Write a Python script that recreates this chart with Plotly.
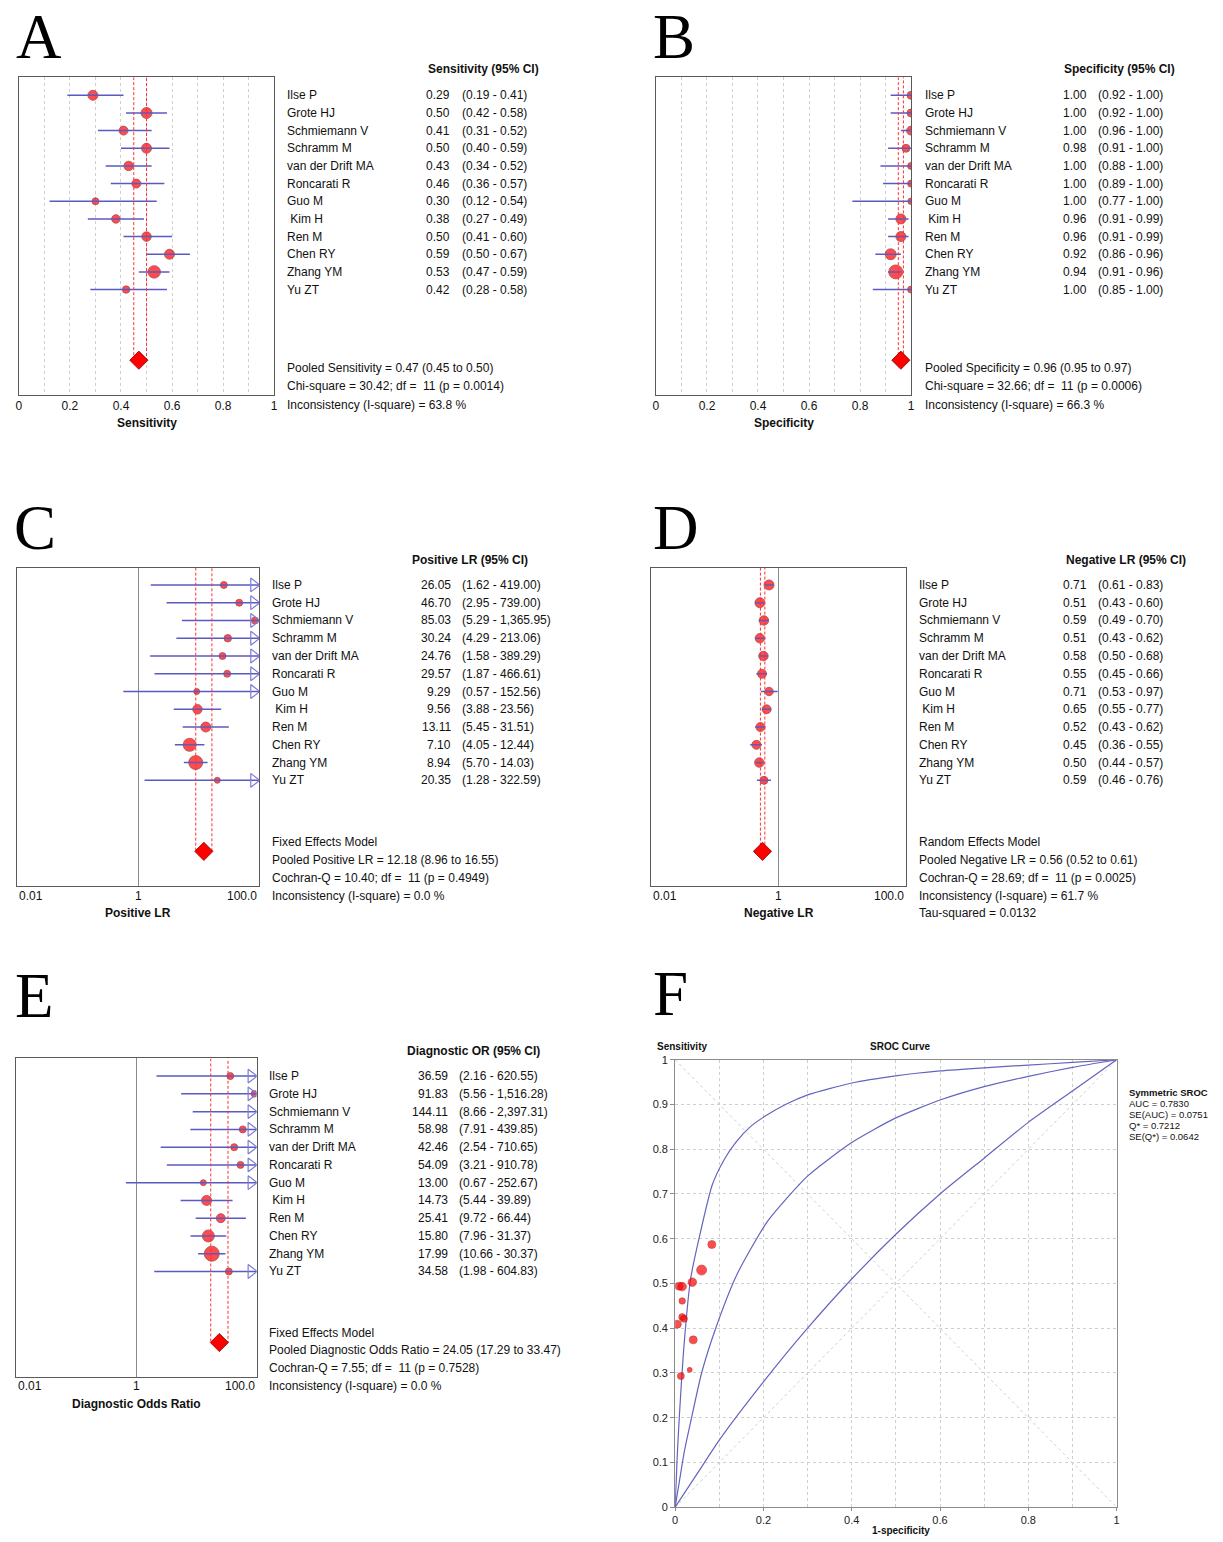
import plotly.graph_objects as go
import math

# ---------------- data ----------------
STUDIES = ["Ilse P", "Grote HJ", "Schmiemann V", "Schramm M", "van der Drift MA",
           "Roncarati R", "Guo M", "\u00a0Kim H", "Ren M", "Chen RY", "Zhang YM", "Yu ZT"]

SENS = [0.29, 0.50, 0.41, 0.50, 0.43, 0.46, 0.30, 0.38, 0.50, 0.59, 0.53, 0.42]
SENS_LO = [0.19, 0.42, 0.31, 0.40, 0.34, 0.36, 0.12, 0.27, 0.41, 0.50, 0.47, 0.28]
SENS_HI = [0.41, 0.58, 0.52, 0.59, 0.52, 0.57, 0.54, 0.49, 0.60, 0.67, 0.59, 0.58]
SENS_POOLED = [0.47, 0.45, 0.50]

SPEC = [1.00, 1.00, 1.00, 0.98, 1.00, 1.00, 1.00, 0.96, 0.96, 0.92, 0.94, 1.00]
SPEC_LO = [0.92, 0.92, 0.96, 0.91, 0.88, 0.89, 0.77, 0.91, 0.91, 0.86, 0.91, 0.85]
SPEC_HI = [1.00, 1.00, 1.00, 1.00, 1.00, 1.00, 1.00, 0.99, 0.99, 0.96, 0.96, 1.00]
SPEC_POOLED = [0.96, 0.95, 0.97]

PLR = [26.05, 46.70, 85.03, 30.24, 24.76, 29.57, 9.29, 9.56, 13.11, 7.10, 8.94, 20.35]
PLR_LO = [1.62, 2.95, 5.29, 4.29, 1.58, 1.87, 0.57, 3.88, 5.45, 4.05, 5.70, 1.28]
PLR_HI = [419.00, 739.00, 1365.95, 213.06, 389.29, 466.61, 152.56, 23.56, 31.51, 12.44, 14.03, 322.59]
PLR_POOLED = [12.18, 8.96, 16.55]

NLR = [0.71, 0.51, 0.59, 0.51, 0.58, 0.55, 0.71, 0.65, 0.52, 0.45, 0.50, 0.59]
NLR_LO = [0.61, 0.43, 0.49, 0.43, 0.50, 0.45, 0.53, 0.55, 0.43, 0.36, 0.44, 0.46]
NLR_HI = [0.83, 0.60, 0.70, 0.62, 0.68, 0.66, 0.97, 0.77, 0.62, 0.55, 0.57, 0.76]
NLR_POOLED = [0.56, 0.52, 0.61]

DOR = [36.59, 91.83, 144.11, 58.98, 42.46, 54.09, 13.00, 14.73, 25.41, 15.80, 17.99, 34.58]
DOR_LO = [2.16, 5.56, 8.66, 7.91, 2.54, 3.21, 0.67, 5.44, 9.72, 7.96, 10.66, 1.98]
DOR_HI = [620.55, 1516.28, 2397.31, 439.85, 710.65, 910.78, 252.67, 39.89, 66.44, 31.37, 30.37, 604.83]
DOR_POOLED = [24.05, 17.29, 33.47]

# SROC study points (1-specificity, sensitivity) as plotted
SROC_FPR = [0.013, 0.009, 0.005, 0.016, 0.016, 0.016, 0.033, 0.041, 0.039, 0.083, 0.060, 0.020]
SROC_TPR = [0.293, 0.494, 0.409, 0.493, 0.425, 0.461, 0.307, 0.374, 0.503, 0.587, 0.530, 0.421]

# SROC curves
UPPER_X = [0, 0.005, 0.01, 0.02, 0.035, 0.054, 0.084, 0.11, 0.137, 0.17, 0.204, 0.25, 0.302, 0.40,
           0.50, 0.60, 0.70, 0.80, 0.90, 1.0]
UPPER_Y = [0, 0.12, 0.21, 0.36, 0.51, 0.60, 0.72, 0.775, 0.815, 0.85, 0.874, 0.90, 0.922, 0.948,
           0.964, 0.975, 0.982, 0.988, 0.994, 1.0]
MID_X = [0, 0.01, 0.02, 0.035, 0.06, 0.092, 0.14, 0.21, 0.30, 0.40, 0.50, 0.60, 0.70, 0.80, 0.90, 1.0]
MID_Y = [0, 0.06, 0.12, 0.19, 0.30, 0.40, 0.52, 0.64, 0.74, 0.815, 0.87, 0.91, 0.94, 0.963, 0.983, 1.0]
LOW_X = [0, 0.05, 0.10, 0.20, 0.30, 0.40, 0.50, 0.60, 0.70, 0.80, 0.90, 1.0]
LOW_Y = [0, 0.075, 0.15, 0.28, 0.40, 0.51, 0.61, 0.70, 0.78, 0.86, 0.93, 1.0]

SROC_STATS = ["AUC = 0.7830", "SE(AUC) = 0.0751", "Q* = 0.7212", "SE(Q*) = 0.0642"]

# ---------------- style ----------------
W, H = 1223, 1542
FONT = "Arial, 'Liberation Sans', sans-serif"
SERIF = "'Times New Roman', 'Liberation Serif', serif"
RED = "#ff0000"
RED_EDGE = "#8a0000"
CI_BLUE = "#5a5ac2"
ARROW_BLUE = "#7c7cd8"
BOX = "#5a5a5a"
GRID = "#cfcfcf"
NBSP = "\u00a0"

SIZE_A = [10, 11, 9, 10, 9.5, 9, 7, 8.5, 9.5, 10, 12.5, 7.5]
SIZE_B = [8, 8, 9, 8, 7, 7, 6.5, 10, 10, 11, 14, 7]
SIZE_C = [7, 7, 7, 7.5, 7, 7, 6, 9.5, 10, 13, 14, 6]
SIZE_D = [10, 10, 9.5, 9.5, 9.5, 9, 8.5, 9, 9, 9, 9.5, 8]
SIZE_E = [7, 6.5, 7, 7, 7, 7, 6, 10, 9, 12, 15, 7]
SIZE_F = [7, 8, 8, 8.5, 7, 6.5, 5, 8, 8.5, 8, 10, 7]

fig = go.Figure()
annotations = []


def px(x):
    return x / W


def py(y):
    return 1 - y / H


def ann(text, x, y, xanchor="left", size=12, bold=False, family=FONT, xref="paper", yref="paper",
        color="#111111"):
    if bold:
        text = "<b>" + text + "</b>"
    annotations.append(dict(text=text, x=x, y=y, xref=xref, yref=yref, xanchor=xanchor,
                            yanchor="middle", showarrow=False,
                            font=dict(family=family, size=size, color=color)))


def names(i):
    s = "" if i == 1 else str(i)
    return "x" + s, "y" + s, "xaxis" + s, "yaxis" + s


def fmt(v):
    return f"{v:,.2f}"


LOG_MIN, LOG_MAX = 0.01, 100.0


def forest(i, est, lo, hi, pooled, sizes, g, log, header, title, foot):
    xn, yn, xk, yk = names(i)
    l, t, r, b = g["box"]
    row0, sp = g["row0"], g["sp"]
    ytop = (t - row0) / sp
    ybot = (b - row0) / sp
    n = len(est)
    rows = list(range(n))
    prow = n + 3

    # study markers
    fig.add_trace(go.Scatter(x=est, y=rows, mode="markers", xaxis=xn, yaxis=yn,
                             marker=dict(size=sizes, color=RED, line=dict(color=RED_EDGE, width=0.8)),
                             hoverinfo="skip"))
    # CI lines
    cx, cy = [], []
    for k in rows:
        cx += [lo[k], hi[k], None]
        cy += [k, k, None]
    fig.add_trace(go.Scatter(x=cx, y=cy, mode="lines", xaxis=xn, yaxis=yn,
                             line=dict(color=CI_BLUE, width=1.5), hoverinfo="skip"))
    # arrows for CIs exceeding the axis
    if log:
        ar = [k for k in rows if hi[k] > LOG_MAX]
        fig.add_trace(go.Scatter(x=[10 ** (math.log10(LOG_MAX) - 0.09)] * len(ar), y=ar, mode="markers",
                                 xaxis=xn, yaxis=yn,
                                 marker=dict(symbol="triangle-right-open", size=12,
                                             color=ARROW_BLUE, line=dict(width=1.2, color=ARROW_BLUE)),
                                 hoverinfo="skip"))
    # pooled CI band
    fig.add_trace(go.Scatter(x=[pooled[1], pooled[1], pooled[2], pooled[2]],
                             y=[ytop, prow, prow, ytop], mode="lines", xaxis=xn, yaxis=yn,
                             line=dict(color="#ff3030", width=1, dash="3px,2px"), hoverinfo="skip"))
    # pooled diamond
    fig.add_trace(go.Scatter(x=[pooled[0]], y=[prow], mode="markers", xaxis=xn, yaxis=yn,
                             marker=dict(symbol="diamond", size=14, color=RED,
                                         line=dict(color=RED_EDGE, width=0.8)),
                             hoverinfo="skip"))

    xa = dict(domain=[px(l), px(r)], anchor=yn, showline=True, mirror=True, linecolor=BOX,
              linewidth=1, zeroline=False, ticks="", fixedrange=True)
    if log:
        xa.update(type="log", range=[math.log10(LOG_MIN), math.log10(LOG_MAX)], tickvals=[1],
                  showticklabels=False, showgrid=True, gridcolor="#8a8a8a", gridwidth=1)
    else:
        xa.update(range=[0, 1], tickmode="linear", tick0=0, dtick=0.2, showgrid=True,
                  gridcolor=GRID, griddash="dot",
                  minor=dict(tick0=0, dtick=0.1, showgrid=True, gridcolor=GRID, griddash="dot"),
                  tickfont=dict(family=FONT, size=12, color="#111111"))
    ya = dict(domain=[py(b), py(t)], anchor=xn, range=[ybot, ytop], showline=True, mirror=True,
              linecolor=BOX, linewidth=1, showgrid=False, zeroline=False, showticklabels=False,
              ticks="", fixedrange=True)
    fig.update_layout({xk: xa, yk: ya})

    if log:
        # annotation x on a log axis is given in log10 units
        ann("0.01", math.log10(LOG_MIN), py(g["tick_y"]), "left", xref=xn)
        ann("1", 0, py(g["tick_y"]), "center", xref=xn)
        ann("100.0", math.log10(LOG_MAX), py(g["tick_y"]), "right", xref=xn)

    # text table
    for k in rows:
        ann(STUDIES[k], px(g["label_x"]), k, "left", yref=yn)
        ann(fmt(est[k]), px(g["val_right"]), k, "right", yref=yn)
        ann("(" + fmt(lo[k]) + " - " + fmt(hi[k]) + ")", px(g["ci_left"]), k, "left", yref=yn)
    hx, ha = g["head"]
    ann(header, px(hx), py(g["head_y"]), ha, bold=True)
    for txt, yy in zip(foot, g["foot_y"]):
        ann(txt, px(g["label_x"]), py(yy), "left")
    ann(title, px((l + r) / 2), py(g["title_y"]), "center", bold=True)


def pooled_txt(name, p):
    return f"Pooled {name} = {p[0]:.2f} ({p[1]:.2f} to {p[2]:.2f})"


DF = "df =" + NBSP + " 11"

GA = dict(box=(16, 71.7, 272.7, 391.7), row0=90, sp=17.8, label_x=284, val_right=452, ci_left=460,
          head=(541, "right"), head_y=63, foot_y=[365, 383, 402], title_y=420)
GB = dict(box=(656.7, 71.7, 913.3, 391.7), row0=90, sp=17.8, label_x=925, val_right=1092, ci_left=1099,
          head=(1181, "right"), head_y=63, foot_y=[365, 383, 402], title_y=420)
GC = dict(box=(14, 566, 257.7, 886.7), row0=583.5, sp=17.9, label_x=269, val_right=453, ci_left=460,
          head=(409, "left"), head_y=558, foot_y=[843, 861, 879, 897], title_y=914, tick_y=897)
GD = dict(box=(651.7, 566, 908.3, 886.7), row0=583.5, sp=17.9, label_x=919, val_right=1092, ci_left=1099,
          head=(1067, "left"), head_y=558, foot_y=[843, 861, 879, 897, 914], title_y=914, tick_y=897)
GE = dict(box=(13.3, 1060.7, 255, 1381.7), row0=1078.5, sp=17.9, label_x=266, val_right=450, ci_left=457,
          head=(404, "left"), head_y=1053, foot_y=[1337, 1355, 1373, 1391], title_y=1409, tick_y=1391)

forest(1, SENS, SENS_LO, SENS_HI, SENS_POOLED, SIZE_A, GA, False, "Sensitivity (95% CI)", "Sensitivity",
       [pooled_txt("Sensitivity", SENS_POOLED), "Chi-square = 30.42; " + DF + " (p = 0.0014)",
        "Inconsistency (I-square) = 63.8 %"])
forest(2, SPEC, SPEC_LO, SPEC_HI, SPEC_POOLED, SIZE_B, GB, False, "Specificity (95% CI)", "Specificity",
       [pooled_txt("Specificity", SPEC_POOLED), "Chi-square = 32.66; " + DF + " (p = 0.0006)",
        "Inconsistency (I-square) = 66.3 %"])
forest(3, PLR, PLR_LO, PLR_HI, PLR_POOLED, SIZE_C, GC, True, "Positive LR (95% CI)", "Positive LR",
       ["Fixed Effects Model", pooled_txt("Positive LR", PLR_POOLED),
        "Cochran-Q = 10.40; " + DF + " (p = 0.4949)", "Inconsistency (I-square) = 0.0 %"])
forest(4, NLR, NLR_LO, NLR_HI, NLR_POOLED, SIZE_D, GD, True, "Negative LR (95% CI)", "Negative LR",
       ["Random Effects Model", pooled_txt("Negative LR", NLR_POOLED),
        "Cochran-Q = 28.69; " + DF + " (p = 0.0025)", "Inconsistency (I-square) = 61.7 %",
        "Tau-squared = 0.0132"])
forest(5, DOR, DOR_LO, DOR_HI, DOR_POOLED, SIZE_E, GE, True, "Diagnostic OR (95% CI)", "Diagnostic Odds Ratio",
       ["Fixed Effects Model", pooled_txt("Diagnostic Odds Ratio", DOR_POOLED),
        "Cochran-Q = 7.55; " + DF + " (p = 0.7528)", "Inconsistency (I-square) = 0.0 %"])

# ---------------- panel F : SROC ----------------
FL, FT, FR, FB = 676, 1062, 1120, 1513
fig.add_trace(go.Scatter(x=[0, 1], y=[0, 1], mode="lines", xaxis="x6", yaxis="y6",
                         line=dict(color="#cfcfcf", width=1, dash="dot"), hoverinfo="skip"))
fig.add_trace(go.Scatter(x=[0, 1], y=[1, 0], mode="lines", xaxis="x6", yaxis="y6",
                         line=dict(color="#cfcfcf", width=1, dash="dot"), hoverinfo="skip"))
for cxv, cyv in [(UPPER_X, UPPER_Y), (MID_X, MID_Y), (LOW_X, LOW_Y)]:
    fig.add_trace(go.Scatter(x=cxv, y=cyv, mode="lines", xaxis="x6", yaxis="y6",
                             line=dict(color="#6464be", width=1.2, shape="spline", smoothing=0.6),
                             hoverinfo="skip"))
fig.add_trace(go.Scatter(x=SROC_FPR, y=SROC_TPR, mode="markers", xaxis="x6", yaxis="y6",
                         marker=dict(size=SIZE_F, color=RED, line=dict(color=RED_EDGE, width=0.6)),
                         hoverinfo="skip"))
fig.update_layout(
    xaxis6=dict(domain=[px(FL), px(FR)], anchor="y6", range=[0, 1], tickmode="linear", tick0=0, dtick=0.2,
                showgrid=True, gridcolor=GRID, griddash="dot",
                minor=dict(tick0=0, dtick=0.1, showgrid=True, gridcolor=GRID, griddash="dot"),
                showline=True, mirror=True, linecolor="#8c8c8c", zeroline=False,
                ticks="outside", ticklen=3, tickcolor="#8c8c8c",
                tickfont=dict(family=FONT, size=11, color="#222222"), fixedrange=True),
    yaxis6=dict(domain=[py(FB), py(FT)], anchor="x6", range=[0, 1], tickmode="linear", tick0=0, dtick=0.1,
                showgrid=True, gridcolor=GRID, griddash="dot",
                showline=True, mirror=True, linecolor="#8c8c8c", zeroline=False,
                ticks="outside", ticklen=4, tickcolor="#8c8c8c",
                tickfont=dict(family=FONT, size=11, color="#222222"), fixedrange=True),
)
ann("Sensitivity", px(656), py(1049), "left", size=10, bold=True)
ann("SROC Curve", px(902), py(1049), "center", size=10, bold=True)
ann("1-specificity", px(903), py(1536), "center", size=10, bold=True)
ann("Symmetric SROC", px(1130), py(1095), "left", size=9.5, bold=True)
for k, s in enumerate(SROC_STATS):
    ann(s, px(1130), py(1106 + 11 * k), "left", size=9.5)

# ---------------- panel letters ----------------
for letter, x, y in [("A", 11, 31), ("B", 652, 31), ("C", 9, 526), ("D", 652, 526),
                     ("E", 10, 998), ("F", 652, 996)]:
    ann(letter, px(x), py(y), "left", size=63, family=SERIF, color="#000000")

fig.update_layout(width=W, height=H, margin=dict(l=0, r=0, t=0, b=0), showlegend=False,
                  paper_bgcolor="white", plot_bgcolor="white", annotations=annotations)

fig.write_html("out.html", config={"displayModeBar": False},
               post_script="document.body.style.margin='0';document.body.style.overflow='hidden';")
